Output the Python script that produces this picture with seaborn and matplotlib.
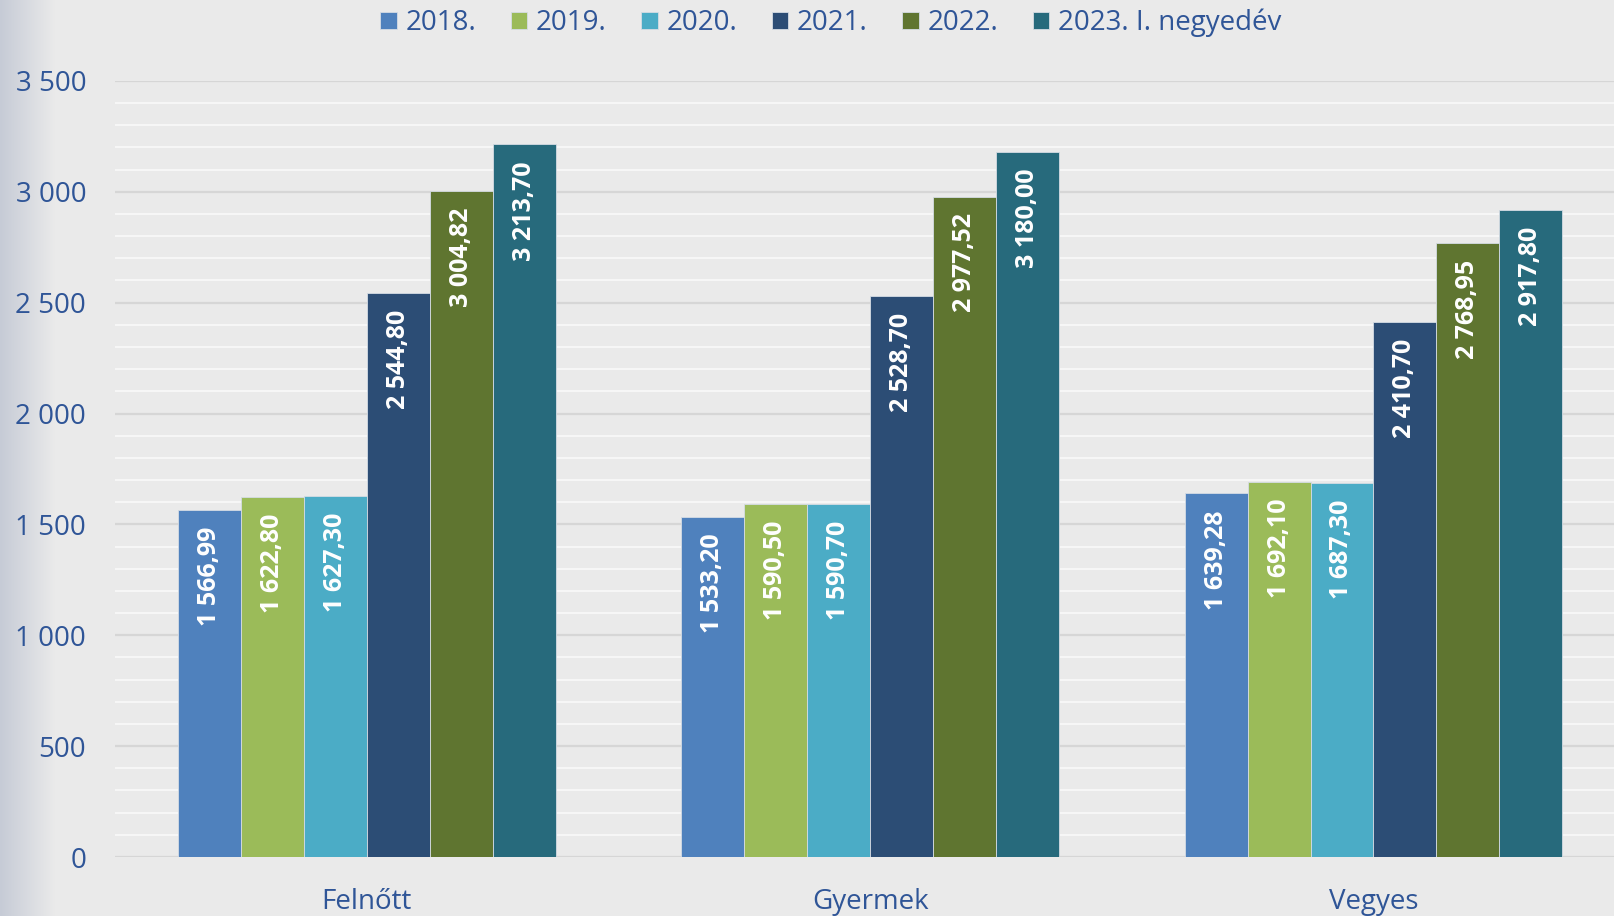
import numpy as np
import pandas as pd
import seaborn as sns
import matplotlib.pyplot as plt
from matplotlib.ticker import MultipleLocator, FuncFormatter
from matplotlib.colors import LinearSegmentedColormap

# data
categories = ["Felnőtt", "Gyermek", "Vegyes"]
years = ["2018.", "2019.", "2020.", "2021.", "2022.", "2023. I. negyedév"]
v2018 = [1566.99, 1533.20, 1639.28]
v2019 = [1622.80, 1590.50, 1692.10]
v2020 = [1627.30, 1590.70, 1687.30]
v2021 = [2544.80, 2528.70, 2410.70]
v2022 = [3004.82, 2977.52, 2768.95]
v2023 = [3213.70, 3180.00, 2917.80]

colors = ["#4F81BD", "#9BBB59", "#4BACC6", "#2C4D75", "#5F7530", "#276A7C"]
text_blue = "#2F5597"
bg = "#EAEAEA"

series = [v2018, v2019, v2020, v2021, v2022, v2023]
df = pd.DataFrame({
    "cat": [c for s in series for c in categories],
    "year": [y for y, s in zip(years, series) for _ in s],
    "value": [v for s in series for v in s],
})

sns.set_style("white")
plt.rcParams["font.family"] = ["Open Sans", "DejaVu Sans"]

fig = plt.figure(figsize=(16.15, 9.16), dpi=100, facecolor=bg)

# left edge shading
gax = fig.add_axes([0, 0, 0.034, 1])
grad = np.linspace(0, 1, 256).reshape(1, -1)
cmap = LinearSegmentedColormap.from_list("edge", ["#C6CBD6", bg])
gax.imshow(grad, aspect="auto", cmap=cmap, extent=[0, 1, 0, 1])
gax.axis("off")

ax = fig.add_axes([0.0714, 0.0644, 0.9286, 0.8473])
ax.set_facecolor(bg)

sns.barplot(data=df, x="cat", y="value", hue="year", palette=colors,
            width=0.75, ax=ax, saturation=1, edgecolor="#D5DCE4",
            linewidth=0.6, zorder=3)

ax.set_ylim(0, 3500)
ax.set_xlim(-0.5, 2.48)
ax.yaxis.set_major_locator(MultipleLocator(500))
ax.yaxis.set_minor_locator(MultipleLocator(100))
ax.grid(which="minor", axis="y", color="#F6F6F6", linewidth=1.5, zorder=0)
ax.grid(which="major", axis="y", color="#D6D6D6", linewidth=1.6, zorder=1)
ax.set_axisbelow(True)
ax.yaxis.set_major_formatter(FuncFormatter(lambda v, p: f"{int(v):,}".replace(",", " ")))
ax.tick_params(axis="y", which="both", length=0, labelsize=20, labelcolor=text_blue, pad=21)
ax.tick_params(axis="x", length=0, labelsize=20, labelcolor=text_blue, pad=22)
ax.set_xlabel("")
ax.set_ylabel("")
for s in ax.spines.values():
    s.set_visible(False)

for cont in ax.containers:
    for b in cont:
        h = b.get_height()
        txt = f"{h:,.2f}".replace(",", " ").replace(".", ",")
        ax.annotate(txt, (b.get_x() + b.get_width() / 2, h), xytext=(0, -12),
                    textcoords="offset points", rotation=90, ha="center", va="top",
                    color="white", fontsize=18, fontweight="bold", zorder=5)

ax.legend(loc="upper center", bbox_to_anchor=(0.477, 1.125), ncol=6, frameon=False,
          fontsize=20, labelcolor=text_blue, handlelength=0.6, handleheight=0.6,
          handletextpad=0.3, columnspacing=1.25)

fig.savefig("out.png", dpi=100, facecolor=bg)
